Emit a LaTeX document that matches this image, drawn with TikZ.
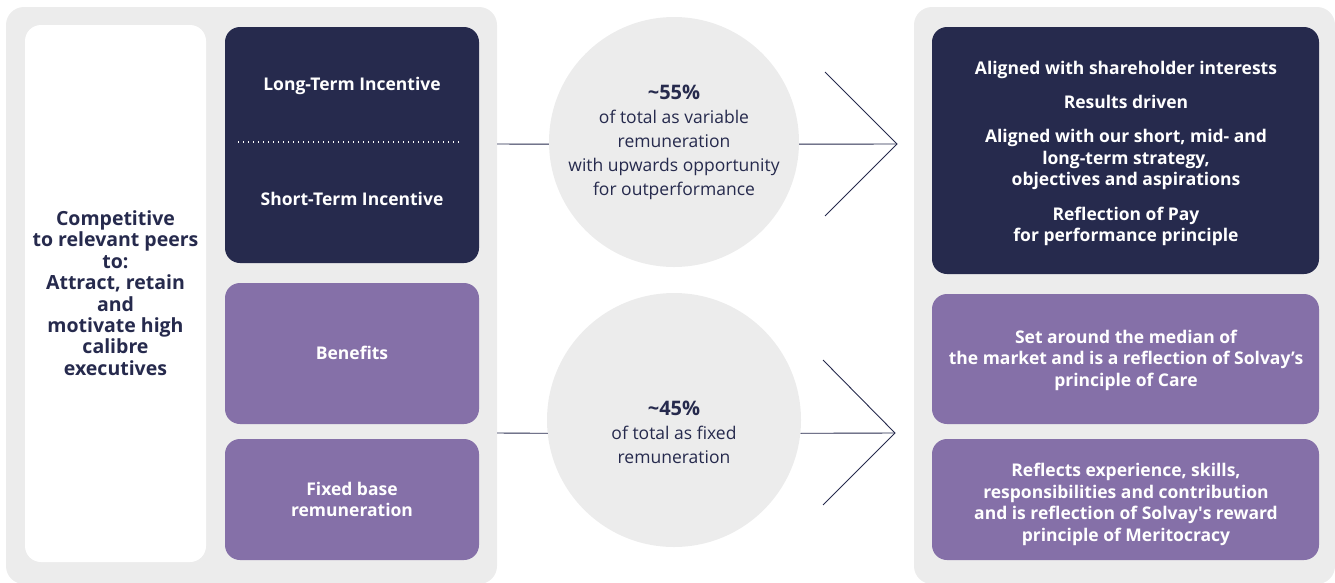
\documentclass[tikz,border=0pt]{standalone}
\usepackage{fontspec}
\setmainfont{Open Sans}
\definecolor{navy}{HTML}{262A4D}
\definecolor{purp}{HTML}{8570A8}
\definecolor{panelgray}{HTML}{ECECEC}
\begin{document}
\begin{tikzpicture}[x=1pt,y=-1pt,
  panel/.style={fill=panelgray, draw=none, rounded corners=18pt, inner sep=0pt},
  whitebox/.style={fill=white, draw=none, rounded corners=16pt, inner sep=0pt, minimum width=181pt, minimum height=537pt},
  darkbox/.style={fill=navy, draw=none, rounded corners=15pt, inner sep=0pt},
  purpbox/.style={fill=purp, draw=none, rounded corners=15pt, inner sep=0pt},
  boxtext/.style={text=white, font=\fontsize{17.5}{21.5}\selectfont\bfseries, align=center, inner sep=0pt},
  lefttext/.style={text=navy, font=\fontsize{19.5}{21.4}\selectfont\bfseries, align=center, inner sep=0pt},
  circ/.style={circle, fill=panelgray, draw=none, inner sep=0pt},
  circtext/.style={text=navy, font=\fontsize{17.5}{24}\selectfont, align=center, inner sep=0pt},
  conn/.style={draw=navy, line width=0.9pt},
  chev/.style={draw=navy, line width=0.9pt, line join=miter}
]
\useasboundingbox (0,0) rectangle (1335,582);

% panels
\node[panel, minimum width=491pt, minimum height=577pt] (lp) at (251.5,295.5) {};
\node[panel, minimum width=421pt, minimum height=577pt] (rp) at (1124.5,295.5) {};

% left column
\node[whitebox] (wb) at (115.5,293.5) {};
\node[lefttext] (lt) at (115.5,293) {Competitive\\to relevant peers\\to:\\Attract, retain\\and\\motivate high\\calibre\\executives};

\node[darkbox, minimum width=254pt, minimum height=236pt] (inc) at (352,145) {};
\node[boxtext] (lti) at (352,86) {Long-Term Incentive};
\node[boxtext] (sti) at (352,199) {Short-Term Incentive};
\coordinate (dl) at (238,142);
\coordinate (dr) at (462,142);
\draw[white, line width=1.3pt, dash pattern=on 1.3pt off 3.7pt] (dl) -- (dr);

\node[purpbox, minimum width=254pt, minimum height=141pt] (ben) at (352,353.5) {};
\node[boxtext] at (352,353) {Benefits};
\node[purpbox, minimum width=254pt, minimum height=121pt] (fix) at (352,499.5) {};
\node[boxtext] at (352,499.5) {Fixed base\\remuneration};

% circles
\node[circ, minimum size=250pt] (c1) at (674,142) {};
\node[circtext] (t1) at (674,142.5) {\textbf{\fontsize{20}{24}\selectfont \textasciitilde55\%}\\of total as variable\\remuneration\\with upwards opportunity\\for outperformance};
\node[circ, minimum size=254pt] (c2) at (674,420) {};
\node[circtext] (t2) at (674,432) {\textbf{\fontsize{20}{24}\selectfont \textasciitilde45\%}\\of total as fixed\\remuneration};

% connectors
\coordinate (l1) at (497,144);
\coordinate (a1) at (897,144);
\coordinate (a1t) at (825,72);
\coordinate (a1b) at (825,216);
\draw[conn] (l1) -- (c1.181);
\draw[conn] (c1.359) -- (a1);
\draw[chev] (a1t) -- (a1) -- (a1b);

\coordinate (l2) at (497,433);
\coordinate (a2) at (895,433);
\coordinate (a2t) at (823,360);
\coordinate (a2b) at (823,505);
\draw[conn] (l2) -- (c2.186);
\draw[conn] (c2.354) -- (a2);
\draw[chev] (a2t) -- (a2) -- (a2b);

% right column
\node[darkbox, minimum width=387pt, minimum height=247pt] (rd) at (1125.5,150.5) {};
\node[boxtext] (rdt) at (1126,153.5) {Aligned with shareholder interests\\[12.5pt]Results driven\\[13pt]Aligned with our short, mid- and\\long-term strategy,\\objectives and aspirations\\[13pt]Reflection of Pay\\for performance principle};

\node[purpbox, minimum width=387pt, minimum height=130pt] (rp1) at (1125.5,359) {};
\node[boxtext] at (1126,360) {Set around the median of\\the market and is a reflection of Solvay’s\\principle of Care};
\node[purpbox, minimum width=387pt, minimum height=121pt] (rp2) at (1125.5,499.5) {};
\node[boxtext] at (1126,504.5) {Reflects experience, skills,\\responsibilities and contribution\\and is reflection of Solvay\textquotesingle s reward\\principle of Meritocracy};
\end{tikzpicture}
\end{document}
